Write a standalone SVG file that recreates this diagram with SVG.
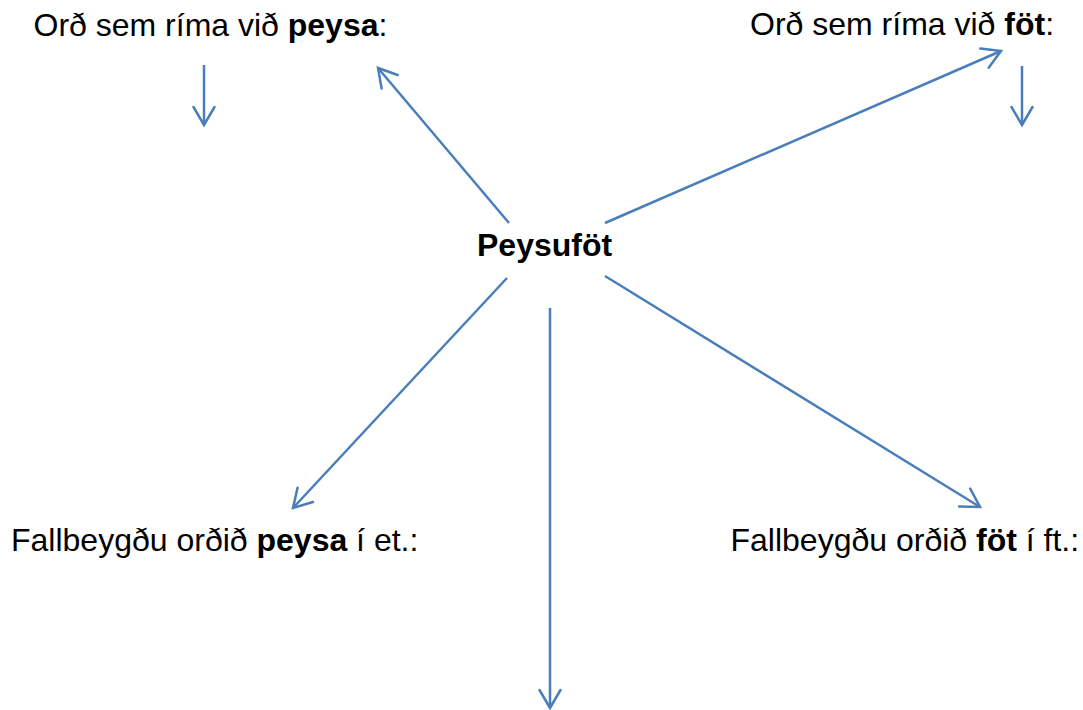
<svg xmlns="http://www.w3.org/2000/svg" width="1083" height="710" viewBox="0 0 1083 710">
<style>
text{font-family:"Liberation Sans",Arial,sans-serif;font-size:32px;fill:#000}
.b{font-weight:bold}
.c{stroke:#4A7EBB;stroke-width:2.5;fill:none}
</style>
<defs>
<marker id="ah" markerUnits="userSpaceOnUse" markerWidth="30" markerHeight="30" refX="20" refY="12" orient="auto" overflow="visible">
<path d="M2,1.5 L20,12 L2,22.5" fill="none" stroke="#4A7EBB" stroke-width="2.5" stroke-linecap="round" stroke-linejoin="miter"/>
</marker>
</defs>
<rect width="1083" height="710" fill="#fff"/>
<g id="connectors">
<line class="c" x1="204" y1="65" x2="204" y2="125" marker-end="url(#ah)"/>
<line class="c" x1="509" y1="223" x2="378" y2="68" marker-end="url(#ah)"/>
<line class="c" x1="605" y1="223" x2="1001" y2="51" marker-end="url(#ah)"/>
<line class="c" x1="1022" y1="66" x2="1022" y2="125" marker-end="url(#ah)"/>
<line class="c" x1="507" y1="278" x2="293" y2="508" marker-end="url(#ah)"/>
<line class="c" x1="550" y1="308" x2="550" y2="708" marker-end="url(#ah)"/>
<line class="c" x1="605" y1="276" x2="980" y2="507" marker-end="url(#ah)"/>
</g>
<g id="node-center"><text x="477" y="256" class="b">Peysuföt</text></g>
<g id="node-rhyme-peysa"><text x="33.5" y="36">Orð sem ríma við <tspan class="b">peysa</tspan>:</text></g>
<g id="node-rhyme-fot"><text x="750" y="35">Orð sem ríma við <tspan class="b">föt</tspan>:</text></g>
<g id="node-decl-peysa"><text x="11" y="551">Fallbeygðu orðið <tspan class="b">peysa</tspan> í et.:</text></g>
<g id="node-decl-fot"><text x="730.5" y="551">Fallbeygðu orðið <tspan class="b">föt</tspan> í ft.:</text></g>
</svg>
